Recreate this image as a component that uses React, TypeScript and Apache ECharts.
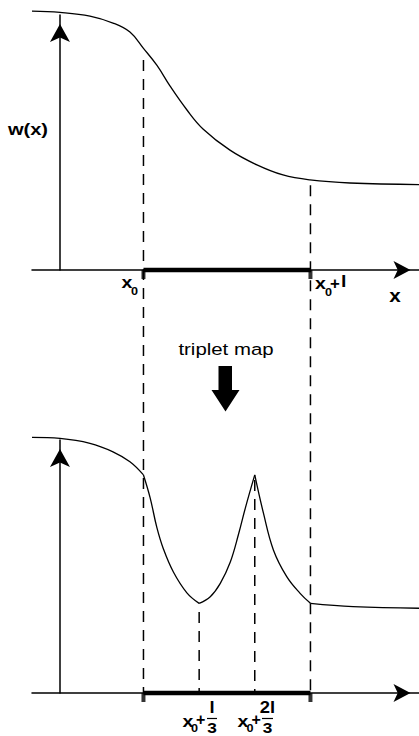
import React, { useEffect, useRef } from "react";
import * as echarts from "echarts";

const FONT = '"Liberation Sans", Arial, Helvetica, sans-serif';

// w(x) before the map (x: 0 = w axis, 1 = x0, 3 = x0 + l)
const wX = [-0.335, 0, 0.359, 0.635, 0.838, 1.0, 1.162, 1.317, 1.521, 1.713, 2.036, 2.359, 2.671, 2.994, 3.473, 4.3];
const wY = [1.0, 0.995, 0.981, 0.954, 0.919, 0.856, 0.79, 0.711, 0.618, 0.545, 0.463, 0.406, 0.367, 0.348, 0.336, 0.33];

// w(x) after the triplet map, one piece between each pair of cusps
const leftX = [-0.335, 0, 0.359, 0.635, 0.838, 1.0];
const leftY = [0.995, 0.991, 0.972, 0.939, 0.9, 0.849];
const firstX = [1.0, 1.08, 1.16, 1.24, 1.36, 1.52, 1.667];
const firstY = [0.849, 0.76, 0.645, 0.56, 0.47, 0.39, 0.349];
const secondX = [1.667, 1.8, 1.92, 2.04, 2.14, 2.22, 2.333];
const secondY = [0.349, 0.375, 0.427, 0.51, 0.62, 0.72, 0.849];
const thirdX = [2.333, 2.437, 2.556, 2.716, 2.876, 3.0];
const thirdY = [0.849, 0.7, 0.557, 0.453, 0.388, 0.349];
const rightX = [3.0, 3.51, 4.3];
const rightY = [0.349, 0.336, 0.33];

// interval [x0, x0 + l]
const intervalEnds = [1, 3];
// dashed guides: position and upper end (in lower-panel units)
const guideX = [1, 3, 1.667, 2.333];
const guideTop = [2.464, 1.977, 0.315, 0.829];

const zip = (xs: number[], ys: number[]) => xs.map((x, i) => [x, ys[i]]);

const black = "#000";

function axisPair(idx: number) {
  const x = {
    type: "value",
    gridIndex: idx,
    min: -0.335,
    max: 4.3,
    axisLine: {
      show: true,
      onZero: true,
      symbol: ["none", "arrow"],
      symbolSize: [13.5, 17],
      symbolOffset: [0, -8.5],
      lineStyle: { color: black, width: 1.5 },
    },
    axisTick: { show: false },
    axisLabel: { show: false },
    splitLine: { show: false },
  };
  const y = {
    type: "value",
    gridIndex: idx,
    min: 0,
    max: 0.985,
    axisLine: {
      show: true,
      onZero: true,
      symbol: ["none", "arrow"],
      symbolSize: [15, 18],
      symbolOffset: [0, -9],
      lineStyle: { color: black, width: 1.5 },
    },
    axisTick: { show: false },
    axisLabel: { show: false },
    splitLine: { show: false },
  };
  return { x, y };
}

function curve(idx: number, data: number[][]) {
  return {
    type: "line",
    xAxisIndex: idx,
    yAxisIndex: idx,
    data,
    smooth: 0.4,
    symbol: "none",
    clip: false,
    silent: true,
    lineStyle: { color: black, width: 1.3 },
  };
}

function interval(idx: number) {
  const pts = intervalEnds.map((x) => [x, 0]);
  return [
    {
      type: "line",
      xAxisIndex: idx,
      yAxisIndex: idx,
      data: pts,
      symbol: "none",
      clip: false,
      silent: true,
      lineStyle: { color: black, width: 4.5 },
      z: 3,
    },
    {
      type: "scatter",
      xAxisIndex: idx,
      yAxisIndex: idx,
      data: pts,
      symbol: "rect",
      symbolSize: [4, 9],
      symbolOffset: [0, 4.5],
      clip: false,
      silent: true,
      itemStyle: { color: black },
      z: 3,
    },
  ];
}

function txt(text: string, x: number, y: number, size: number, opts: any = {}) {
  return {
    type: "text",
    x,
    y,
    scaleX: opts.scaleX ?? 1.15,
    silent: true,
    style: {
      text,
      fill: black,
      fontFamily: FONT,
      fontSize: size,
      fontWeight: opts.weight ?? "bold",
      align: opts.align ?? "left",
      verticalAlign: "middle",
    },
  };
}

function bar(x1: number, x2: number, y: number) {
  return {
    type: "line",
    silent: true,
    shape: { x1, y1: y, x2, y2: y },
    style: { stroke: black, lineWidth: 1.2 },
  };
}

export default function App() {
  const ref = useRef<HTMLDivElement>(null);

  useEffect(() => {
    if (!ref.current) return;
    const chart = echarts.init(ref.current, undefined, { renderer: "svg" });
    const a0 = axisPair(0);
    const a1 = axisPair(1);

    const guides = guideX.map((gx, i) => ({
      type: "line",
      xAxisIndex: 1,
      yAxisIndex: 1,
      data: [
        [gx, guideTop[i]],
        [gx, 0],
      ],
      symbol: "none",
      clip: false,
      silent: true,
      lineStyle: { color: black, width: 1.5, type: [11, 8] },
    }));

    chart.setOption({
      animation: false,
      backgroundColor: "#fff",
      grid: [
        { left: 32, right: 0, top: 15, height: 255 },
        { left: 32, right: 0, top: 440, height: 253 },
      ],
      xAxis: [a0.x, a1.x],
      yAxis: [a0.y, a1.y],
      series: [
        curve(0, zip(wX, wY)),
        ...interval(0),
        curve(1, zip(leftX, leftY)),
        curve(1, zip(firstX, firstY)),
        curve(1, zip(secondX, secondY)),
        curve(1, zip(thirdX, thirdY)),
        curve(1, zip(rightX, rightY)),
        ...interval(1),
        ...guides,
      ],
      graphic: [
        txt("w(x)", 28, 129, 17, { align: "center", scaleX: 1.18 }),
        txt("x", 395, 296, 18, { align: "center" }),
        // x0 and x0 + l under the upper axis
        txt("x", 121.5, 282, 17),
        txt("0", 131, 291, 11),
        txt("x", 315, 283, 17),
        txt("0", 325, 292, 11),
        txt("+", 330, 283, 16, { scaleX: 1.05 }),
        txt("l", 341, 281, 17),
        // triplet map arrow
        txt("triplet map", 226, 349, 17, { align: "center", weight: "normal", scaleX: 1.2 }),
        {
          type: "polygon",
          silent: true,
          shape: {
            points: [
              [218.5, 366],
              [232, 366],
              [232, 390],
              [239.5, 390],
              [225.5, 411.5],
              [211.5, 390],
              [218.5, 390],
            ],
          },
          style: { fill: black },
        },
        // x0 + l/3
        txt("x", 182.5, 721, 17),
        txt("0", 191, 728.5, 11),
        txt("+", 196, 719, 16, { scaleX: 1.0 }),
        txt("l", 212, 707.5, 16, { align: "center" }),
        bar(207, 217, 718.5),
        txt("3", 212, 727.5, 15, { align: "center" }),
        // x0 + 2l/3
        txt("x", 237.5, 721, 17),
        txt("0", 246.5, 728.5, 11),
        txt("+", 251.5, 719, 16, { scaleX: 1.0 }),
        txt("2l", 267.5, 707.5, 16, { align: "center" }),
        bar(262, 273, 718.5),
        txt("3", 267.5, 727.5, 15, { align: "center" }),
      ],
    });
    return () => chart.dispose();
  }, []);

  return (
    <div
      ref={ref}
      style={{ position: "absolute", left: 0, top: 0, width: 419, height: 736, background: "#fff" }}
    />
  );
}
